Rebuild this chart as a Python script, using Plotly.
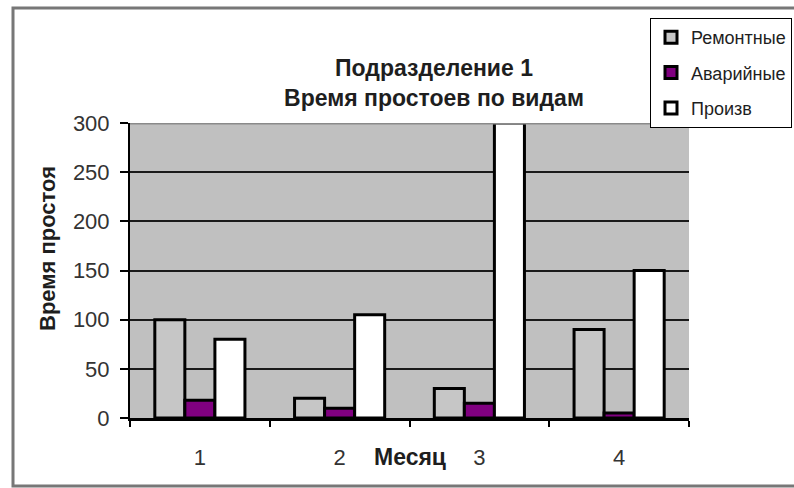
import plotly.graph_objects as go

# Months and downtime per type for subdivision 1
months = ["1", "2", "3", "4"]
repair = [100, 20, 30, 90]        # Ремонтные
emergency = [18, 10, 15, 5]       # Аварийные
production = [80, 105, 300, 150]  # Произв

series_names = ["Ремонтные", "Аварийные", "Произв"]
series_colors = ["#c6c6c6", "#800080", "#ffffff"]
y_ticks = [0, 50, 100, 150, 200, 250, 300]

W, H = 794, 488
L, R, T, B = 130, 105, 123, 70
plot_w = W - L - R
plot_h = H - T - B

def px_x(px):
    return (px - L) / plot_w

def px_y(py):
    return (H - B - py) / plot_h

FONT = "Liberation Sans, Arial, sans-serif"
TEXT = "#1e1e1e"

fig = go.Figure()
for name, vals, col in zip(series_names, [repair, emergency, production], series_colors):
    fig.add_trace(go.Bar(
        x=months, y=vals, name=name, legendgroup=name,
        marker=dict(color=col, line=dict(color="black", width=3)),
    ))

fig.update_layout(
    width=W, height=H,
    margin=dict(l=L, r=R, t=T, b=B, autoexpand=False),
    paper_bgcolor="white",
    plot_bgcolor="#c0c0c0",
    barmode="group",
    bargap=0.355,
    bargroupgap=0,
    font=dict(family=FONT, color=TEXT),
    title=dict(
        text="<b>Подразделение 1<br>Время простоев по видам</b>",
        xref="paper", x=px_x(434), xanchor="center",
        yref="container", y=1 - 76 / H, yanchor="middle",
        font=dict(size=23, family=FONT, color=TEXT),
    ),
    legend=dict(
        xref="paper", x=px_x(650), xanchor="left",
        yref="paper", y=px_y(18), yanchor="top",
        bgcolor="white", bordercolor="black", borderwidth=1,
        font=dict(size=18, family=FONT, color=TEXT),
        traceorder="grouped", tracegroupgap=9,
    ),
    showlegend=True,
)

fig.update_xaxes(
    type="category",
    showgrid=False, zeroline=False,
    showline=True, linecolor="black", linewidth=3,
    ticks="outside", tickson="boundaries", ticklen=6, tickwidth=2, tickcolor="black",
    tickfont=dict(size=22, family=FONT, color="#333333"),
    ticklabelstandoff=18,
)
fig.update_yaxes(
    range=[0, 300],
    tickvals=y_ticks,
    showgrid=True, gridcolor="#1a1a1a", gridwidth=2,
    zeroline=False,
    showline=True, linecolor="black", linewidth=2,
    ticks="outside", ticklen=8, tickwidth=2, tickcolor="black",
    tickfont=dict(size=22, family=FONT, color="#333333"),
    ticklabelstandoff=6,
)

# Top edge of the plot area in grey
fig.add_shape(type="line", xref="x domain", yref="y", x0=0, x1=1, y0=300, y1=300,
              line=dict(color="#8a8a8a", width=3), layer="above")
# Outer chart frame
fig.add_shape(type="rect", xref="paper", yref="paper",
              x0=px_x(13), x1=px_x(805), y0=px_y(8), y1=px_y(486),
              line=dict(color="#777777", width=3), fillcolor="rgba(0,0,0,0)", layer="below")

# Axis titles
fig.add_annotation(text="<b>Время простоя</b>", xref="paper", yref="paper",
                   x=px_x(47), y=px_y(249), xanchor="center", yanchor="middle",
                   textangle=-90, showarrow=False,
                   font=dict(size=22, family=FONT, color=TEXT))
fig.add_annotation(text="<b>Месяц</b>", xref="paper", yref="paper",
                   x=px_x(410), y=px_y(457), xanchor="center", yanchor="middle",
                   showarrow=False,
                   font=dict(size=23, family=FONT, color=TEXT))

fig.write_html("out.html")
